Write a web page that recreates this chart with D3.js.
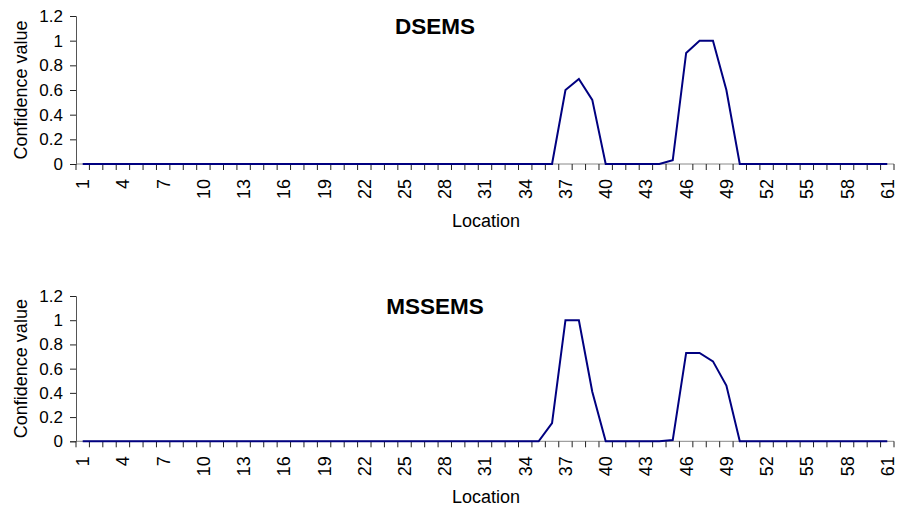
<!DOCTYPE html>
<html>
<head>
<meta charset="utf-8">
<script src="https://cdn.jsdelivr.net/npm/d3@7"></script>
<style>
  html, body { margin: 0; padding: 0; background: #fff; }
  svg { display: block; font-family: "Liberation Sans", Arial, sans-serif; }
</style>
</head>
<body>
<svg id="chart" width="900" height="513"></svg>
<script>
const categories = [1,2,3,4,5,6,7,8,9,10,11,12,13,14,15,16,17,18,19,20,
  21,22,23,24,25,26,27,28,29,30,31,32,33,34,35,36,37,38,39,40,
  41,42,43,44,45,46,47,48,49,50,51,52,53,54,55,56,57,58,59,60,61];
const xTickLabels = [1,4,7,10,13,16,19,22,25,28,31,34,37,40,43,46,49,52,55,58,61];
const yTickValues = [0,0.2,0.4,0.6,0.8,1,1.2];
const dsems = [0,0,0,0,0,0,0,0,0,0, 0,0,0,0,0,0,0,0,0,0, 0,0,0,0,0,0,0,0,0,0, 0,0,0,0,0,0,
  0.6,0.69,0.52, 0,0,0,0,0, 0.03, 0.9,1,1,0.6, 0,0,0,0,0,0,0,0,0,0,0,0];
const mssems = [0,0,0,0,0,0,0,0,0,0, 0,0,0,0,0,0,0,0,0,0, 0,0,0,0,0,0,0,0,0,0, 0,0,0,0,0,
  0.15, 1,1, 0.41, 0,0,0,0,0, 0.01, 0.73,0.73,0.66,0.46, 0,0,0,0,0,0,0,0,0,0,0,0];
const titles = ["DSEMS", "MSSEMS"];
const yTitle = "Confidence value";
const xTitle = "Location";

const svg = d3.select("#chart");
const left = 76, right = 894;
const x = d3.scaleBand().domain(categories).range([left, right]).padding(0);
const bw = x.bandwidth();

const panels = [
  { data: dsems, title: titles[0], y0: 164, y1: 16, titleY: 34, locY: 227 },
  { data: mssems, title: titles[1], y0: 441.3, y1: 296, titleY: 314, locY: 503 }
];

panels.forEach(p => {
  const y = d3.scaleLinear().domain([0, 1.2]).range([p.y0, p.y1]);
  const g = svg.append("g");

  // Y axis
  const yAxis = d3.axisLeft(y).tickValues(yTickValues).tickSize(6).tickPadding(7)
    .tickFormat(d => String(d));
  const ya = g.append("g").attr("transform", `translate(${left},0)`).call(yAxis);
  ya.select(".domain").attr("stroke", "#555").attr("stroke-width", 1);
  ya.selectAll(".tick line").attr("stroke", "#222");
  ya.selectAll(".tick text").attr("font-size", 17).attr("fill", "#000")
    .attr("font-family", "'Liberation Sans', Arial, sans-serif");

  // X axis line
  g.append("line").attr("x1", left).attr("x2", right)
    .attr("y1", y(0)).attr("y2", y(0)).attr("stroke", "#888").attr("stroke-width", 1);
  // X tick marks at category boundaries
  const bounds = categories.map(c => x(c)).concat([x(categories[categories.length - 1]) + bw]);
  g.selectAll(".xt").data(bounds).enter().append("line")
    .attr("x1", d => d).attr("x2", d => d)
    .attr("y1", y(0)).attr("y2", y(0) + 6)
    .attr("stroke", "#222").attr("stroke-width", 1);
  // X tick labels (rotated)
  g.selectAll(".xl").data(xTickLabels).enter().append("text")
    .attr("x", d => x(d) + bw / 2)
    .attr("y", y(0) + 15)
    .attr("transform", d => `rotate(-90,${x(d) + bw / 2},${y(0) + 15})`)
    .attr("text-anchor", "end")
    .attr("dy", "0.36em")
    .attr("font-size", 18)
    .text(d => d);

  // Data line
  const line = d3.line().x((v, i) => x(categories[i]) + bw / 2).y(v => y(v));
  g.append("path").datum(p.data).attr("d", line)
    .attr("fill", "none").attr("stroke", "#000080").attr("stroke-width", 2)
    .attr("stroke-linejoin", "miter");

  // Title
  g.append("text").attr("x", 435).attr("y", p.titleY).attr("text-anchor", "middle")
    .attr("font-size", 22.5).attr("font-weight", "bold").text(p.title);

  // Y title
  const yc = (p.y0 + p.y1) / 2;
  g.append("text").attr("transform", `translate(27,${yc}) rotate(-90)`)
    .attr("text-anchor", "middle").attr("font-size", 18).text(yTitle);

  // X title
  g.append("text").attr("x", 486).attr("y", p.locY).attr("text-anchor", "middle")
    .attr("font-size", 18).text(xTitle);
});
</script>
</body>
</html>
